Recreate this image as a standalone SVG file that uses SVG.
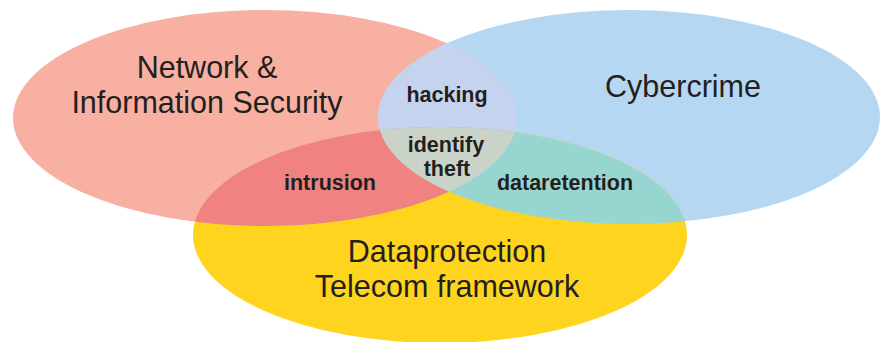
<svg xmlns="http://www.w3.org/2000/svg" width="881" height="342" viewBox="0 0 881 342">
  <style>
    .big { font-family: "Liberation Sans", Arial, sans-serif; font-size: 30.5px; fill: #231f20; text-anchor: middle; }
    .lbl { font-family: "Liberation Sans", Arial, sans-serif; font-size: 21.5px; font-weight: bold; fill: #231f20; text-anchor: middle; }
  </style>
  <defs>
    <clipPath id="clipBlue"><ellipse cx="629" cy="117" rx="251" ry="107"/></clipPath>
    <clipPath id="clipYellow"><ellipse cx="440" cy="235" rx="247" ry="108"/></clipPath>
  </defs>
  <rect width="881" height="342" fill="#ffffff"/>
  <g id="network-security">
    <ellipse cx="265" cy="118" rx="252" ry="108" fill="#F8B0A2"/>
  </g>
  <g id="cybercrime">
    <ellipse cx="629" cy="117" rx="251" ry="107" fill="#B6D7F1"/>
  </g>
  <g id="dataprotection">
    <ellipse cx="440" cy="235" rx="247" ry="108" fill="#FFD41F"/>
  </g>
  <g id="hacking">
    <ellipse cx="265" cy="118" rx="252" ry="108" fill="#C6D3EE" clip-path="url(#clipBlue)"/>
  </g>
  <g id="intrusion">
    <ellipse cx="265" cy="118" rx="252" ry="108" fill="#F08282" clip-path="url(#clipYellow)"/>
  </g>
  <g id="dataretention">
    <ellipse cx="629" cy="117" rx="251" ry="107" fill="#97D5D1" clip-path="url(#clipYellow)"/>
  </g>
  <g id="identify-theft">
    <g clip-path="url(#clipYellow)">
      <ellipse cx="265" cy="118" rx="252" ry="108" fill="#CAD3C7" clip-path="url(#clipBlue)"/>
    </g>
  </g>
  <g id="connectors"/>
  <g id="labels">
    <text class="big" x="207" y="78">Network &amp;</text>
    <text class="big" x="207" y="113">Information Security</text>
    <text class="big" x="683" y="97">Cybercrime</text>
    <text class="big" x="447" y="262">Dataprotection</text>
    <text class="big" x="447" y="297">Telecom framework</text>
    <text class="lbl" x="447" y="102">hacking</text>
    <text class="lbl" x="446" y="152">identify</text>
    <text class="lbl" x="447" y="176">theft</text>
    <text class="lbl" x="330" y="190">intrusion</text>
    <text class="lbl" x="565" y="190">dataretention</text>
  </g>
</svg>
